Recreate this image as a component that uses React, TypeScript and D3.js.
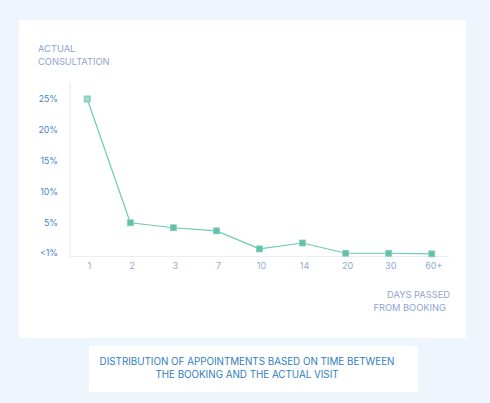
import React, { useEffect, useRef } from "react";
import * as d3 from "d3";

const days = ["1", "2", "3", "7", "10", "14", "20", "30", "60+"];
const shares = [25, 5.1, 4.3, 3.8, 0.9, 1.85, 0.2, 0.2, 0.1];
const yTicks = [0, 5, 10, 15, 20, 25];
const yTickLabels = ["<1%", "5%", "10%", "15%", "20%", "25%"];
const yTitle = ["ACTUAL", "CONSULTATION"];
const xTitle = ["DAYS PASSED", "FROM BOOKING"];
const caption = [
  "DISTRIBUTION OF APPOINTMENTS BASED ON TIME BETWEEN",
  "THE BOOKING AND THE ACTUAL VISIT",
];

const W = 490;
const H = 403;
const FONT = "Inter, 'Noto Sans', sans-serif";

const App = () => {
  const svgRef = useRef<SVGSVGElement>(null);

  useEffect(() => {
    const svg = d3.select(svgRef.current);
    svg.selectAll("*").remove();

    svg.append("rect").attr("width", W).attr("height", H).attr("fill", "#eef5fc");
    // chart card
    svg.append("rect").attr("x", 19).attr("y", 20).attr("width", 447).attr("height", 318).attr("fill", "#ffffff");
    // caption card
    svg.append("rect").attr("x", 89).attr("y", 346).attr("width", 329).attr("height", 46).attr("fill", "#ffffff");

    const left = 70;
    const right = 449;
    const top = 82;
    const bottom = 256.5;

    const x = d3.scalePoint<string>().domain(days).range([left, right]).padding(0.4);
    const y = d3.scaleLinear().domain([0, 25]).range([254.5, 99]);

    // axis lines
    svg.append("line")
      .attr("x1", left).attr("x2", left).attr("y1", top).attr("y2", bottom)
      .attr("stroke", "#e8eef8").attr("stroke-width", 1.2);
    svg.append("line")
      .attr("x1", left).attr("x2", right).attr("y1", bottom).attr("y2", bottom)
      .attr("stroke", "#e8eef8").attr("stroke-width", 1.2);

    const g = svg.append("g").style("font-family", FONT);

    g.selectAll(".ytick")
      .data(yTicks)
      .enter()
      .append("text")
      .attr("class", "ytick")
      .attr("x", 58)
      .attr("y", (d) => y(d) - (d === 0 ? 1.5 : 0))
      .attr("dy", "0.35em")
      .attr("text-anchor", "end")
      .attr("font-size", 8.8)
      .attr("fill", "#3f86c6")
      .text((d, i) => yTickLabels[i]);

    g.selectAll(".xtick")
      .data(days)
      .enter()
      .append("text")
      .attr("class", "xtick")
      .attr("x", (d) => (x(d) as number) + 2)
      .attr("y", 266)
      .attr("dy", "0.35em")
      .attr("text-anchor", "middle")
      .attr("font-size", 9)
      .attr("fill", "#8eaad8")
      .text((d) => d);

    g.selectAll(".ytitle")
      .data(yTitle)
      .enter()
      .append("text")
      .attr("x", 38)
      .attr("y", (d, i) => 52 + i * 12.5)
      .attr("font-size", 9.3)
      .attr("fill", "#8fa3d4")
      .text((d) => d);

    g.selectAll(".xtitle")
      .data(xTitle)
      .enter()
      .append("text")
      .attr("x", (d, i) => (i === 0 ? 450 : 446))
      .attr("y", (d, i) => 298 + i * 12.5)
      .attr("text-anchor", "end")
      .attr("font-size", 9.3)
      .attr("fill", "#8fa3d4")
      .text((d) => d);

    g.selectAll(".caption")
      .data(caption)
      .enter()
      .append("text")
      .attr("x", 247)
      .attr("y", (d, i) => 361.5 + i * 13)
      .attr("dy", "0.35em")
      .attr("text-anchor", "middle")
      .attr("font-size", 9.8)
      .attr("fill", "#2f80c0")
      .text((d) => d);

    const pts = days.map((d, i) => ({ day: d, v: shares[i] }));
    const line = d3
      .line<{ day: string; v: number }>()
      .x((d) => x(d.day) as number)
      .y((d) => y(d.v));

    svg.append("path")
      .datum(pts)
      .attr("d", line)
      .attr("fill", "none")
      .attr("stroke", "#6ccbb0")
      .attr("stroke-width", 1.2);

    const s = 6;
    svg.selectAll(".pt")
      .data(pts)
      .enter()
      .append("rect")
      .attr("class", "pt")
      .attr("x", (d) => (x(d.day) as number) - s / 2)
      .attr("y", (d) => y(d.v) - s / 2)
      .attr("width", s)
      .attr("height", s)
      .attr("fill", (d, i) => (i === 0 ? "#9ed9c8" : "#63c1a7"))
      .attr("stroke", (d, i) => (i === 0 ? "#6cc5ac" : "#85d1bb"))
      .attr("stroke-width", 0.8);
  }, []);

  return (
    <div style={{ position: "absolute", left: 0, top: 0, width: W, height: H }}>
      <svg ref={svgRef} width={W} height={H} style={{ display: "block" }}></svg>
    </div>
  );
};

export default App;
